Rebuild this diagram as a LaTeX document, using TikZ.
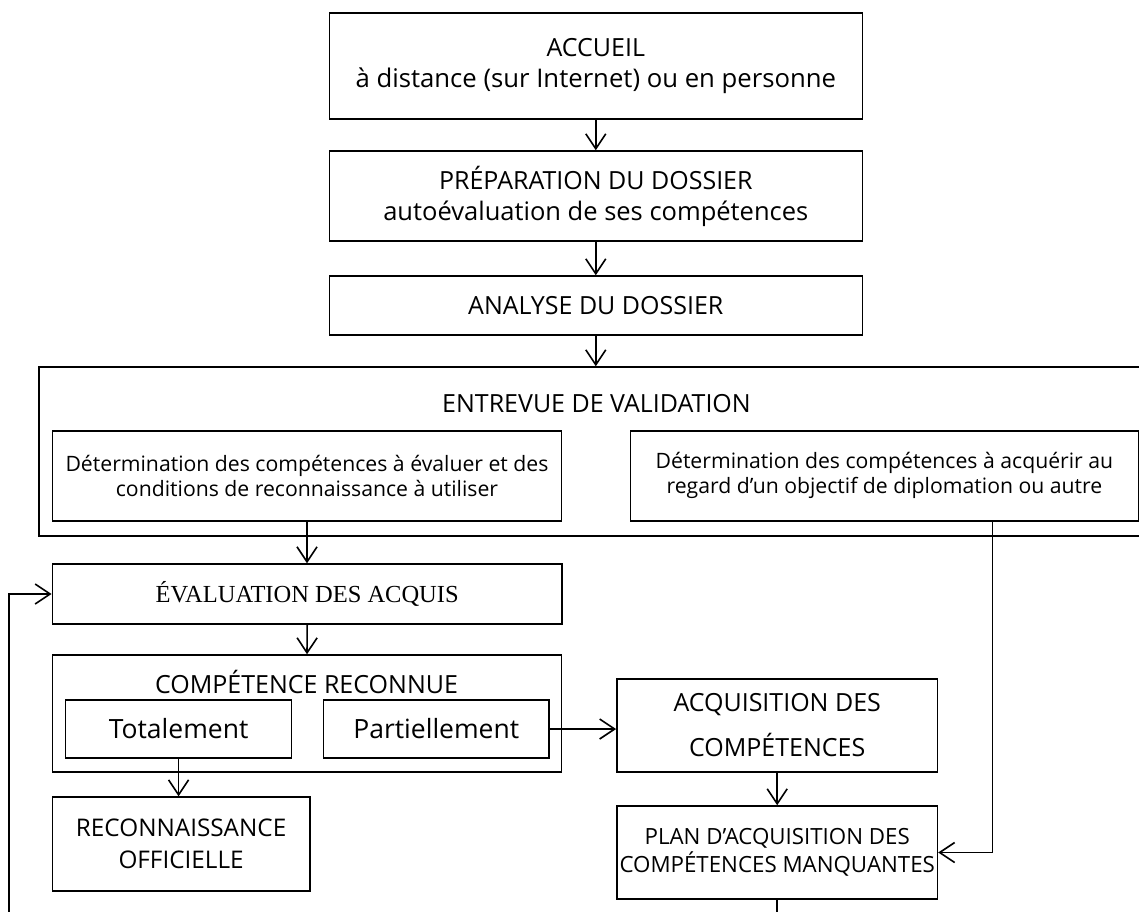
\documentclass[tikz,border=0pt]{standalone}
\usepackage{fontspec}
\setmainfont{Open Sans}
\newfontfamily\serifbox{Liberation Serif}
\usetikzlibrary{arrows.meta}
\tikzset{
  box/.style={draw, line width=1.5pt, align=center, inner sep=0pt},
  big/.style={font=\fontsize{25}{31}\selectfont},
  lower/.style={font=\fontsize{26.5}{31}\selectfont},
  small/.style={font=\fontsize{21.2}{25}\selectfont},
  planfont/.style={font=\fontsize{22.3}{28.5}\selectfont},
  arr/.style={line width=1.6pt, -{Straight Barb[length=15pt,width=20pt,line width=1.6pt]}},
  conn/.style={line width=1.6pt}
}
\begin{document}
\begin{tikzpicture}[x=1pt,y=-1pt]
\clip (0,0) rectangle (1139,911);
\fill[white] (0,0) rectangle (1139,911);
% top chain
\node[box,big,minimum width=533pt,minimum height=106pt] (acc) at (595.8,65.8) {ACCUEIL\\\fontsize{25.7}{31}\selectfont à distance (sur Internet) ou en personne};
\node[box,big,minimum width=533pt,minimum height=90pt] (prep) at (595.8,196) {PRÉPARATION DU DOSSIER\\\fontsize{25.5}{31}\selectfont autoévaluation de ses compétences};
\node[box,big,minimum width=533pt,minimum height=59pt] (ana) at (595.8,305.5) {ANALYSE DU DOSSIER};
% entrevue
\node[box,minimum width=1121pt,minimum height=169pt] (entr) at (599.5,451.5) {};
\node[big] (entrt) at (596.5,404) {ENTREVUE DE VALIDATION};
\node[box,small,minimum width=509.4pt,minimum height=90.3pt] (inl) at (307,475.9) {Détermination des compétences à évaluer et des\\conditions de reconnaissance à utiliser};
\node[box,small,minimum width=508.2pt,minimum height=90.3pt] (inr) at (884.4,475.9) {Détermination des compétences à acquérir au\\regard d’un objectif de diplomation ou autre};
% evaluation
\node[box,font=\serifbox\fontsize{24.5}{30}\selectfont,minimum width=509.7pt,minimum height=60pt] (eval) at (307.2,594) {ÉVALUATION DES ACQUIS};
% competence reconnue
\node[box,minimum width=509.4pt,minimum height=117pt] (comp) at (307,713.5) {};
\node[big] (compt) at (306.5,681.7) {COMPÉTENCE RECONNUE};
\node[box,lower,minimum width=226pt,minimum height=58pt] (tot) at (178.6,729) {Totalement};
\node[box,lower,minimum width=225.4pt,minimum height=58pt] (part) at (436.3,729) {Partiellement};
% right column
\node[box,big,minimum width=320.7pt,minimum height=93pt] (acq) at (777.2,725.5) {ACQUISITION DES\\[14pt]COMPÉTENCES};
\node[box,planfont,minimum width=320.5pt,minimum height=93pt] (plan) at (777.2,852.5) {PLAN D’ACQUISITION DES\\COMPÉTENCES MANQUANTES};
\node[box,font=\fontsize{24.3}{31}\selectfont,minimum width=257.4pt,minimum height=93.7pt] (recon) at (181.1,843.9) {RECONNAISSANCE\\[1pt]OFFICIELLE};
% helper coordinates
\coordinate (rx) at (992.5,0);
\coordinate (lx) at (8.7,0);
\coordinate (bottom) at (0,915);
% connectors
\draw[arr] (acc.south) -- (prep.north);
\draw[arr] (prep.south) -- (ana.north);
\draw[arr] (ana.south) -- (ana.south |- entr.north);
\draw[arr] (inl.south) -- (inl.south |- eval.north);
\draw[arr] (eval.south) -- (comp.north);
\draw[arr] (tot.south) -- (tot.south |- recon.north);
\draw[arr] (part.east) -- (part.east -| acq.west);
\draw[arr] (acq.south) -- (plan.north);
\draw[arr] (rx |- inr.south) |- (plan.east);
\draw[arr] (lx |- bottom) |- (eval.west);
\draw[conn] (plan.south) -- (plan.south |- bottom);
\end{tikzpicture}
\end{document}
